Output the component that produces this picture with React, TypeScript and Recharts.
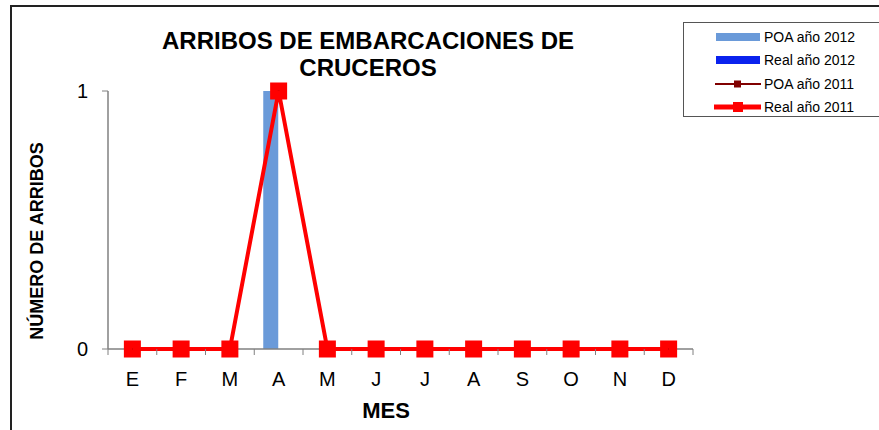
import {
  ComposedChart,
  Bar,
  Line,
  XAxis,
  YAxis
} from "recharts";

const months = ["E", "F", "M", "A", "M", "J", "J", "A", "S", "O", "N", "D"];
const poa2012 = [0, 0, 0, 1, 0, 0, 0, 0, 0, 0, 0, 0];
const real2012 = [0, 0, 0, 0, 0, 0, 0, 0, 0, 0, 0, 0];
const poa2011 = [0, 0, 0, 1, 0, 0, 0, 0, 0, 0, 0, 0];
const real2011 = [0, 0, 0, 1, 0, 0, 0, 0, 0, 0, 0, 0];
const yTicks = [0, 1];

const data = months.map((m, i) => ({
  mes: m,
  key: i,
  poa2012: poa2012[i],
  real2012: real2012[i],
  poa2011: poa2011[i],
  real2011: real2011[i]
}));

const W = 879;
const H = 430;
const MARGIN = { top: 91, right: 186, bottom: 51, left: 48 };
const Y_AXIS_W = 60;
const X_AXIS_H = 30;
const PLOT_W = W - MARGIN.left - MARGIN.right - Y_AXIS_W;
const BAND = PLOT_W / months.length;

const FONT = "'Liberation Sans', Arial, sans-serif";
const AXIS_COLOR = "#808080";

const COLORS = {
  poa2012: "#6a9ad9",
  real2012: "#0a22ee",
  poa2011: "#800000",
  real2011: "#ff0000"
};

// etiqueta del eje X centrada + marca de división entre categorías
function MonthTick(props: any) {
  const { x, y, payload, index } = props;
  const left = x - BAND / 2;
  return (
    <g>
      <line x1={left} y1={y} x2={left} y2={y + 6} stroke={AXIS_COLOR} strokeWidth={1} />
      {index === months.length - 1 && (
        <line x1={x + BAND / 2} y1={y} x2={x + BAND / 2} y2={y + 6} stroke={AXIS_COLOR} strokeWidth={1} />
      )}
      <text x={x} y={y + 37} textAnchor="middle" fontSize={20} fontFamily={FONT} fill="#000">
        {payload.value}
      </text>
    </g>
  );
}

function BigSquare(props: any) {
  const { cx, cy } = props;
  if (cx == null || cy == null) return null;
  return <rect x={cx - 8.5} y={cy - 8.5} width={17} height={17} fill={COLORS.real2011} />;
}

function SmallSquare(props: any) {
  const { cx, cy } = props;
  if (cx == null || cy == null) return null;
  return <rect x={cx - 4} y={cy - 4} width={8} height={8} fill={COLORS.poa2011} />;
}

const legendItems = [
  { label: "POA año 2012", kind: "bar", color: COLORS.poa2012 },
  { label: "Real año 2012", kind: "bar", color: COLORS.real2012 },
  { label: "POA año 2011", kind: "thin", color: COLORS.poa2011 },
  { label: "Real año 2011", kind: "thick", color: COLORS.real2011 }
];

function LegendBox() {
  return (
    <div
      style={{
        position: "absolute",
        left: 683,
        top: 22,
        border: "1px solid #555",
        width: 230,
        height: 95,
        boxSizing: "border-box",
        paddingTop: 2,
        fontFamily: FONT,
        fontSize: 14,
        background: "#fff"
      }}
    >
      {legendItems.map((it) => (
        <div key={it.label} style={{ display: "flex", alignItems: "center", height: 23.5 }}>
          <svg width={78} height={20} style={{ display: "block" }}>
            {it.kind === "bar" && <rect x={32} y={6} width={44} height={8} fill={it.color} />}
            {it.kind === "thin" && (
              <g>
                <line x1={31} y1={10} x2={77} y2={10} stroke={it.color} strokeWidth={2} />
                <rect x={50} y={6.5} width={7} height={7} fill={it.color} />
              </g>
            )}
            {it.kind === "thick" && (
              <g>
                <line x1={30} y1={10} x2={77} y2={10} stroke={it.color} strokeWidth={5} />
                <rect x={49} y={5} width={10} height={10} fill={it.color} />
              </g>
            )}
          </svg>
          <span style={{ marginLeft: 2, color: "#000" }}>{it.label}</span>
        </div>
      ))}
    </div>
  );
}

export default function App() {
  return (
    <div style={{ position: "absolute", left: 0, top: 0, width: W, height: H, overflow: "hidden", background: "#fff" }}>
      <div
        style={{
          position: "absolute",
          left: 10,
          top: 5,
          width: 900,
          height: 500,
          border: "2px solid #222",
          boxSizing: "border-box"
        }}
      />
      <div style={{ position: "absolute", left: 0, top: 0 }}>
        <ComposedChart
          width={W}
          height={H}
          data={data}
          margin={MARGIN}
          barGap={0}
          barCategoryGap={9.4}
        >
          <text x={368} y={49} textAnchor="middle" fontSize={24} fontWeight="bold" fontFamily={FONT} fill="#000">
            ARRIBOS DE EMBARCACIONES DE
          </text>
          <text x={368} y={76} textAnchor="middle" fontSize={24} fontWeight="bold" fontFamily={FONT} fill="#000">
            CRUCEROS
          </text>
          <text
            x={37}
            y={241}
            transform="rotate(-90 37 241)"
            textAnchor="middle"
            dominantBaseline="central"
            fontSize={18}
            fontWeight="bold"
            fontFamily={FONT}
            fill="#000"
          >
            NÚMERO DE ARRIBOS
          </text>
          <text x={386} y={418} textAnchor="middle" fontSize={22} fontWeight="bold" fontFamily={FONT} fill="#000">
            MES
          </text>
          <XAxis
            dataKey="key"
            type="category"
            height={X_AXIS_H}
            tickSize={0}
            tickLine={false}
            tickMargin={0}
            interval={0}
            axisLine={{ stroke: AXIS_COLOR, strokeWidth: 1.5 }}
            tick={(p: any) => <MonthTick {...p} payload={{ value: months[p.payload.value] }} />}
          />
          <YAxis
            width={Y_AXIS_W}
            domain={[0, 1]}
            ticks={yTicks}
            interval={0}
            tickSize={6}
            tickMargin={14}
            axisLine={{ stroke: AXIS_COLOR, strokeWidth: 1.5 }}
            tickLine={{ stroke: AXIS_COLOR }}
            tick={{ fill: "#000", fontSize: 20, fontFamily: FONT }}
          />
          <Bar dataKey="poa2012" name="POA año 2012" fill={COLORS.poa2012} barSize={15} isAnimationActive={false} />
          <Bar dataKey="real2012" name="Real año 2012" fill={COLORS.real2012} barSize={15} isAnimationActive={false} />
          <Line
            dataKey="poa2011"
            name="POA año 2011"
            stroke={COLORS.poa2011}
            strokeWidth={2}
            dot={<SmallSquare />}
            activeDot={false}
            isAnimationActive={false}
            zIndex={650}
          />
          <Line
            dataKey="real2011"
            name="Real año 2011"
            stroke={COLORS.real2011}
            strokeWidth={4}
            dot={<BigSquare />}
            activeDot={false}
            isAnimationActive={false}
            zIndex={700}
          />
        </ComposedChart>
      </div>
      <LegendBox />
    </div>
  );
}
